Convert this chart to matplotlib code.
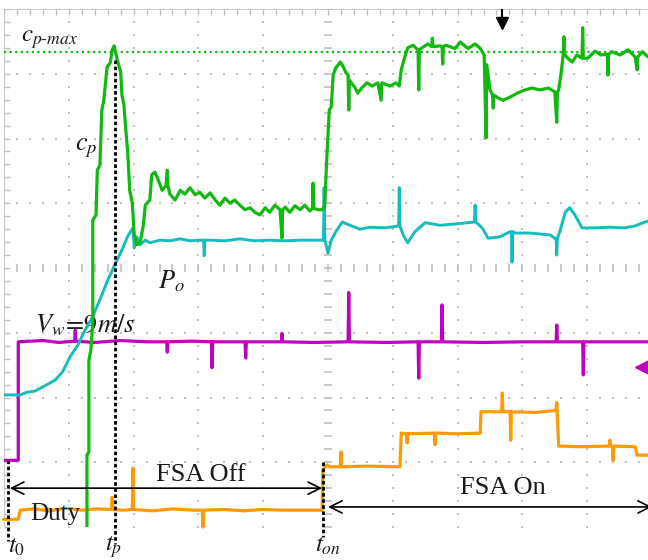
import numpy as np
import matplotlib.pyplot as plt

plt.rcParams['mathtext.fontset'] = 'stix'
plt.rcParams['font.family'] = ['Liberation Serif', 'DejaVu Serif']

# scope screen: 10 x 8 divisions, all values below in divisions
# power coefficient cp (green)
cp_t = [1.28, 1.28, 1.31, 1.31, 1.34, 1.37, 1.37, 1.42, 1.44, 1.48, 1.51, 1.54, 1.59, 1.64,
        1.67, 1.70, 1.73, 1.76, 1.80, 1.82, 1.85, 1.88, 1.91, 1.94, 1.98, 2.01, 2.05, 2.10,
        2.15, 2.18, 2.25, 2.28, 2.33, 2.38, 2.44, 2.50, 2.52, 2.53, 2.56, 2.64, 2.72, 2.79,
        2.87, 2.95, 3.02, 3.10, 3.18, 3.26, 3.33, 3.41, 3.49, 3.56, 3.64, 3.72, 3.80, 3.87,
        3.95, 4.03, 4.10, 4.18, 4.26, 4.29, 4.30, 4.34, 4.41, 4.49, 4.57, 4.64, 4.72, 4.76,
        4.77, 4.78, 4.85, 4.91, 4.95, 4.98, 5.02, 5.05, 5.08, 5.12, 5.19, 5.23, 5.28, 5.31,
        5.32, 5.33, 5.42, 5.46, 5.52, 5.60, 5.68, 5.77, 5.82, 5.83, 5.88, 5.96, 6.05, 6.10,
        6.13, 6.17, 6.23, 6.31, 6.39, 6.40, 6.41, 6.45, 6.54, 6.60, 6.61, 6.62, 6.73, 6.76,
        6.77, 6.78, 6.82, 6.96, 7.04, 7.16, 7.27, 7.35, 7.41, 7.44, 7.45, 7.50, 7.54, 7.55,
        7.56, 7.62, 7.70, 7.81, 7.92, 8.04, 8.15, 8.27, 8.40, 8.50, 8.53, 8.54, 8.56, 8.60,
        8.63, 8.64, 8.65, 8.70, 8.77, 8.84, 8.92, 8.93, 8.94, 9.01, 9.12, 9.21, 9.31, 9.32,
        9.33, 9.38, 9.51, 9.63, 9.74, 9.77, 9.78, 9.85, 9.94, 10.0]
cp_v = [-0.5, 1.11, 1.16, 2.58, 2.73, 3.15, 4.74, 4.82, 5.51, 5.59, 6.44, 6.59, 7.10, 7.17,
        7.37, 7.43, 7.29, 7.17, 7.03, 6.67, 6.52, 6.13, 5.78, 5.20, 5.00, 4.51, 4.36, 4.39,
        4.66, 4.97, 5.05, 5.44, 5.48, 5.36, 5.20, 5.27, 5.51, 5.27, 5.14, 5.05, 5.20, 5.14,
        5.24, 5.13, 5.17, 5.08, 5.16, 5.05, 4.97, 5.08, 5.00, 5.05, 4.97, 4.90, 4.93, 4.86,
        4.82, 4.93, 4.86, 4.97, 4.90, 4.46, 4.90, 4.94, 4.86, 4.96, 4.90, 4.97, 4.88, 4.92,
        5.31, 4.92, 4.90, 4.90, 4.97, 5.67, 6.44, 6.49, 6.98, 7.09, 7.18, 7.12, 7.01, 6.98,
        6.44, 6.90, 6.78, 6.70, 6.78, 6.86, 6.81, 6.86, 6.59, 6.86, 6.84, 6.81, 6.86, 6.81,
        7.06, 7.21, 7.40, 7.44, 7.37, 6.75, 7.37, 7.40, 7.46, 7.42, 7.55, 7.42, 7.43, 7.42,
        7.15, 7.42, 7.44, 7.39, 7.49, 7.39, 7.46, 7.39, 7.29, 6.01, 7.14, 6.75, 6.67, 6.47,
        6.67, 6.63, 6.59, 6.64, 6.70, 6.75, 6.78, 6.75, 6.78, 6.72, 6.25, 6.72, 6.75, 7.03,
        7.30, 7.57, 7.30, 7.24, 7.18, 7.29, 7.24, 7.71, 7.24, 7.24, 7.35, 7.29, 7.30, 6.98,
        7.30, 7.34, 7.29, 7.37, 7.26, 7.06, 7.26, 7.34, 7.26, 7.29]
cp_max = 7.34

# output power Po (cyan)
po_t = [0.0, 0.25, 0.35, 0.48, 0.63, 0.79, 0.90, 1.02, 1.14, 1.25, 1.36, 1.48, 1.60, 1.71,
        1.82, 1.91, 1.99, 2.01, 2.05, 2.10, 2.18, 2.25, 2.41, 2.56, 2.72, 2.87, 3.02, 3.08,
        3.09, 3.10, 3.18, 3.41, 3.64, 3.87, 4.10, 4.34, 4.57, 4.91, 4.93, 4.94, 4.95, 4.97,
        5.00, 5.05, 5.12, 5.22, 5.34, 5.49, 5.65, 5.88, 6.09, 6.10, 6.11, 6.16, 6.23, 6.34,
        6.50, 6.73, 6.96, 7.26, 7.27, 7.28, 7.38, 7.47, 7.65, 7.81, 7.83, 7.84, 7.85, 7.89,
        8.12, 8.43, 8.50, 8.52, 8.53, 8.54, 8.58, 8.66, 8.73, 8.81, 8.92, 9.12, 9.35, 9.58,
        9.74, 9.89, 10.0]
po_v = [2.04, 2.04, 2.08, 2.10, 2.18, 2.27, 2.39, 2.63, 2.81, 3.04, 3.23, 3.51, 3.81, 4.05,
        4.28, 4.49, 4.62, 4.31, 4.48, 4.36, 4.43, 4.39, 4.43, 4.42, 4.45, 4.42, 4.43, 4.43,
        4.19, 4.43, 4.43, 4.42, 4.45, 4.42, 4.43, 4.42, 4.43, 4.43, 4.43, 5.24, 4.43, 4.36,
        4.23, 4.43, 4.56, 4.71, 4.66, 4.60, 4.63, 4.62, 4.65, 5.24, 4.65, 4.51, 4.39, 4.56,
        4.70, 4.66, 4.68, 4.71, 4.97, 4.71, 4.62, 4.46, 4.48, 4.56, 4.56, 4.09, 4.56, 4.54,
        4.54, 4.51, 4.46, 4.46, 4.20, 4.46, 4.57, 4.86, 4.93, 4.82, 4.62, 4.62, 4.63, 4.62,
        4.65, 4.71, 4.74]

# wind speed Vw (magenta)
vw_t = [0.0, 0.22, 0.22, 0.60, 0.85, 1.09, 1.10, 1.11, 1.40, 1.80, 2.20, 2.51, 2.52, 2.53,
        2.90, 3.20, 3.21, 3.22, 3.72, 3.73, 3.74, 4.28, 4.29, 4.30, 4.80, 5.31, 5.32, 5.33,
        5.90, 6.39, 6.40, 6.41, 6.75, 6.76, 6.77, 7.40, 8.00, 8.52, 8.53, 8.54, 8.93, 8.94,
        8.95, 9.50, 10.0]
vw_v = [1.03, 1.03, 2.86, 2.88, 2.85, 2.87, 3.04, 2.87, 2.85, 2.88, 2.86, 2.86, 2.70, 2.86,
        2.87, 2.86, 2.46, 2.86, 2.86, 2.61, 2.86, 2.86, 2.99, 2.86, 2.85, 2.86, 3.62, 2.86,
        2.85, 2.86, 2.30, 2.86, 2.86, 3.43, 2.86, 2.85, 2.86, 2.86, 3.12, 2.86, 2.86, 2.35,
        2.86, 2.86, 2.86]

# duty ratio (orange)
duty_t = [0.0, 0.22, 0.25, 0.45, 0.70, 0.95, 1.20, 1.45, 1.66, 1.67, 1.68, 1.85, 1.98, 1.99,
          2.00, 2.30, 2.60, 2.90, 3.06, 3.07, 3.08, 3.40, 3.70, 4.00, 4.30, 4.60, 4.91, 4.92,
          4.98, 5.03, 5.19, 5.20, 5.21, 5.60, 6.11, 6.13, 6.21, 6.22, 6.23, 6.64, 6.65, 6.66,
          7.00, 7.35, 7.36, 7.68, 7.69, 7.70, 7.81, 7.82, 7.83, 8.20, 8.52, 8.53, 8.56, 8.90,
          9.34, 9.35, 9.36, 9.39, 9.40, 9.41, 9.74, 9.77, 10.0]
duty_v = [0.12, 0.12, 0.26, 0.28, 0.25, 0.29, 0.26, 0.28, 0.27, 0.46, 0.27, 0.26, 0.27, 0.91,
          0.27, 0.25, 0.28, 0.26, 0.26, 0.0, 0.26, 0.27, 0.25, 0.27, 0.26, 0.26, 0.26, 0.88,
          0.96, 0.93, 0.93, 1.16, 0.93, 0.94, 0.93, 1.45, 1.44, 1.30, 1.44, 1.45, 1.27, 1.45,
          1.44, 1.45, 1.78, 1.78, 2.07, 1.78, 1.78, 1.34, 1.78, 1.77, 1.80, 1.92, 1.25, 1.24,
          1.25, 1.34, 1.25, 1.25, 1.03, 1.25, 1.24, 1.11, 1.11]

# event times
t_0, t_p, t_on = 0.06, 1.71, 4.92

fig = plt.figure(figsize=(6.48, 5.6), dpi=100)
ax = fig.add_axes([4 / 648, 33 / 560, 1.0, 518 / 560])
ax.set_xlim(0, 10)
ax.set_ylim(0, 8)
ax.axis('off')

# graticule
grid_c = '#c0c0c0'
minor = np.arange(0, 10.01, 0.2)
minor_y = np.arange(0, 8.01, 0.2)
for gx in range(1, 10):
    if gx == 5:
        ax.plot(np.full_like(minor_y, gx), minor_y, ls='none', marker='_', ms=6, mew=1.2, color=grid_c)
    else:
        ax.plot(np.full_like(minor_y, gx), minor_y, ls='none', marker='s', ms=2.0, mew=0, color=grid_c)
for gy in range(1, 8):
    if gy == 4:
        ax.plot(minor, np.full_like(minor, gy), ls='none', marker='|', ms=6, mew=1.2, color=grid_c)
    else:
        ax.plot(minor, np.full_like(minor, gy), ls='none', marker='s', ms=2.0, mew=0, color=grid_c)
ax.plot([0, 10], [8, 8], color=grid_c, lw=1.2)
ax.plot([0, 0], [0, 8], color=grid_c, lw=1.2)
ax.plot(minor, np.full_like(minor, 7.95), ls='none', marker='|', ms=4, mew=1, color=grid_c)
ax.plot(np.full_like(minor_y, 0.05), minor_y, ls='none', marker='_', ms=4, mew=1, color=grid_c)
ax.plot([0, 10], [0, 0], color='#9be39b', lw=0.8, ls=(0, (1, 1)))

# traces
ax.plot(duty_t, duty_v, color='#ff9a00', lw=2.3, clip_on=False, zorder=3)
ax.plot(vw_t, vw_v, color='#c000c0', lw=2.3, zorder=3)
ax.plot(po_t, po_v, color='#14bcbc', lw=2.1, zorder=4)
ax.plot(cp_t, cp_v, color='#10b810', lw=2.3, zorder=5)
ax.axhline(cp_max, color='#10c010', lw=1.6, ls=(0, (1, 1.5)), zorder=2)

# event markers
dash = (0, (1.3, 0.9))
ax.plot([t_0, t_0], [1.03, -0.22], color='black', lw=2, ls=dash, clip_on=False, zorder=6)
ax.plot([t_p, t_p], [7.22, -0.26], color='black', lw=2, ls=dash, clip_on=False, zorder=6)
ax.plot([t_on, t_on], [1.0, -0.15], color='black', lw=2, ls=dash, clip_on=False, zorder=6)

# FSA off / on spans
arr = dict(arrowstyle='<->', color='black', lw=1.2, mutation_scale=22, shrinkA=0, shrinkB=0)
ax.annotate('', xy=(0.09, 0.60), xytext=(4.91, 0.60), arrowprops=arr, zorder=7)
ax.annotate('', xy=(5.0, 0.31), xytext=(10.0, 0.31), arrowprops=arr, zorder=7, annotation_clip=False)

txt = '#1a1a1a'
ax.text(3.04, 0.80, 'FSA Off', fontsize=19, ha='center', va='center', color=txt, zorder=8)
ax.text(7.70, 0.60, 'FSA On', fontsize=19, ha='center', va='center', color=txt, zorder=8)
ax.text(0.79, 0.20, 'Duty', fontsize=18, ha='center', va='center', color=txt, zorder=8)
ax.text(0.06, -0.31, r'$t_0$', fontsize=18, ha='left', va='center', color=txt, clip_on=False)
ax.text(1.56, -0.31, r'$t_p$', fontsize=18, ha='left', va='center', color=txt, clip_on=False)
ax.text(4.80, -0.29, r'$t_{on}$', fontsize=18, ha='left', va='center', color=txt, clip_on=False)
ax.text(0.27, 7.52, r'$c_{p\text{-}max}$', fontsize=18, ha='left', va='center', color=txt)
ax.text(1.10, 5.85, r'$c_p$', fontsize=19, ha='left', va='center', color=txt)
ax.text(2.38, 3.80, r'$P_o$', fontsize=19, ha='left', va='center', color=txt)
ax.text(0.48, 3.12, r'$V_w\!=\!9m/s$', fontsize=19, ha='left', va='center', color=txt)

# trigger and channel reference markers
ax.plot([7.69, 7.69], [7.98, 7.80], color='black', lw=1.5, clip_on=False)
ax.plot([7.69], [7.79], marker='v', ms=9, color='black', clip_on=False)
ax.plot([9.84], [2.47], marker='<', ms=10, color='#c000c0', clip_on=False)

fig.savefig('out.png', dpi=100)
